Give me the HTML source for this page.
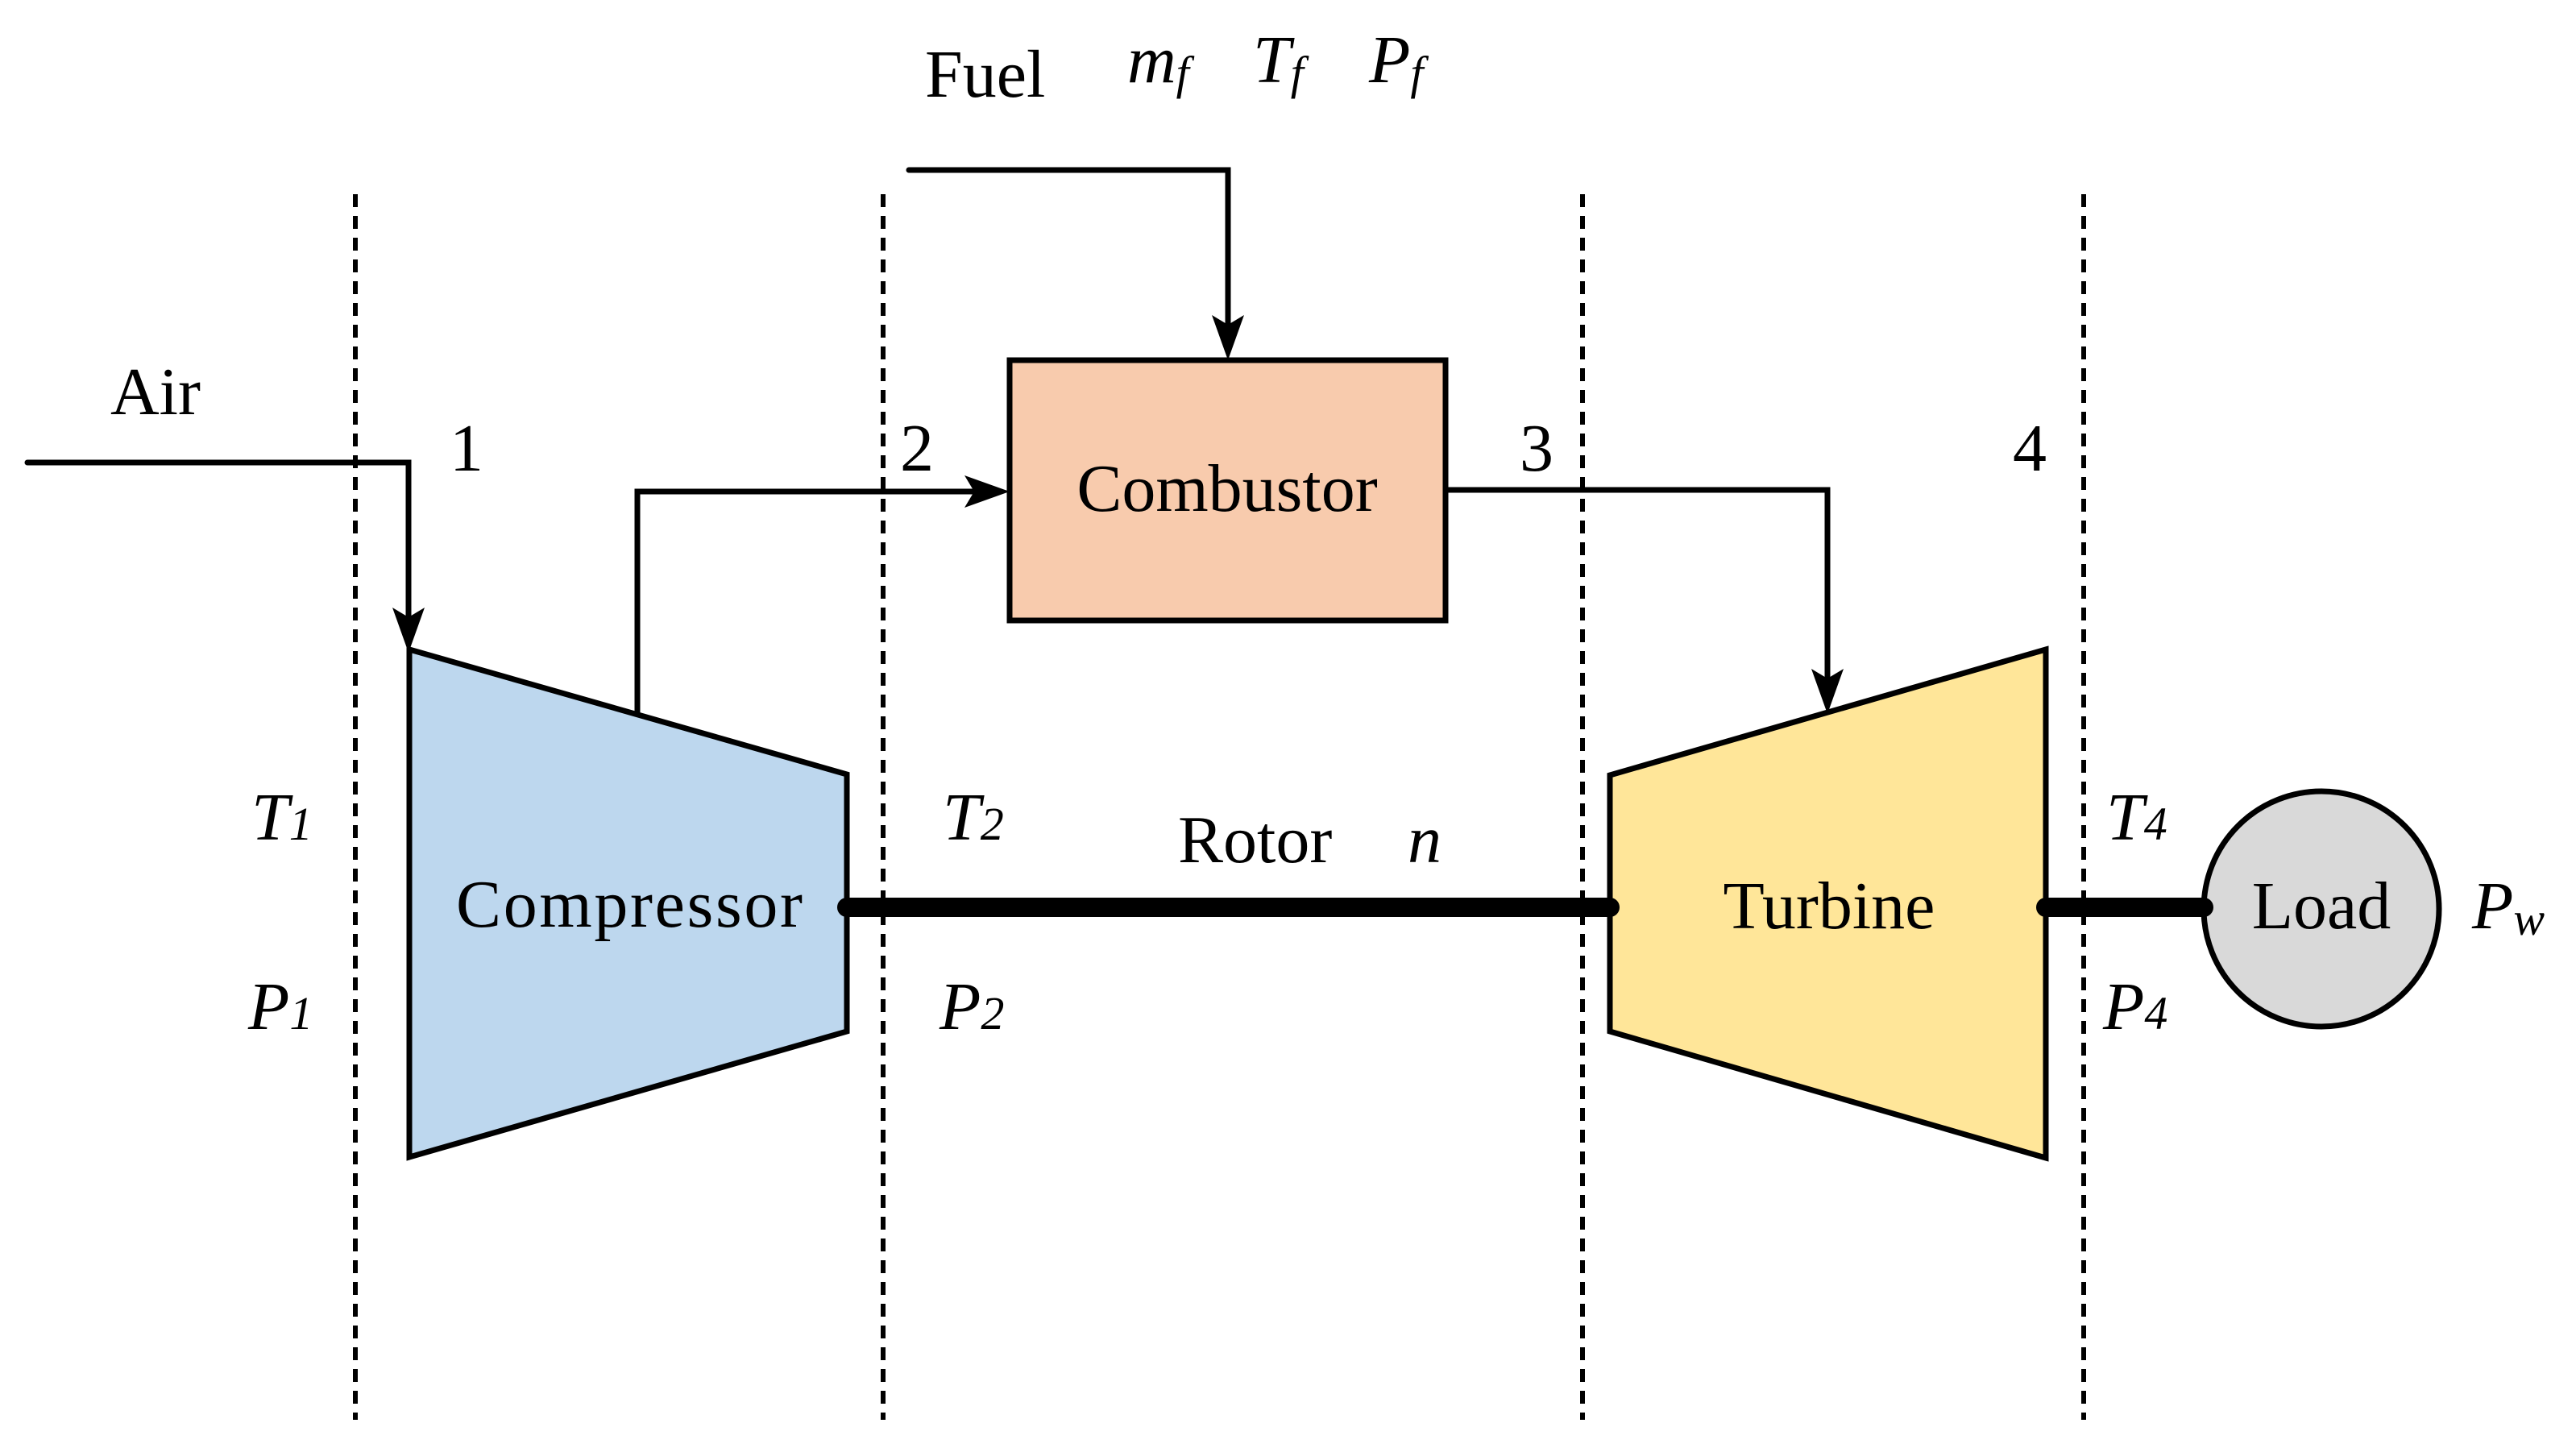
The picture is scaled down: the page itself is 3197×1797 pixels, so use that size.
<!DOCTYPE html>
<html><head><meta charset="utf-8"><style>html,body{margin:0;padding:0;background:#fff}svg{display:block}</style></head>
<body>
<svg width="3197" height="1797" viewBox="0 0 3197 1797" xmlns="http://www.w3.org/2000/svg" font-family="'Liberation Serif', serif" font-size="84">
<g stroke="#000" stroke-width="6" stroke-dasharray="16,11" fill="none">
<line x1="441" y1="241" x2="441" y2="1762"/>
<line x1="1096" y1="241" x2="1096" y2="1762"/>
<line x1="1964" y1="241" x2="1964" y2="1762"/>
<line x1="2586" y1="241" x2="2586" y2="1762"/>
</g>
<polygon points="508,806 1051,961 1051,1280 508,1436" fill="#bdd7ee" stroke="#000" stroke-width="7"/>
<polygon points="1998,962 2539,806 2539,1437 1998,1280" fill="#ffe699" stroke="#000" stroke-width="7"/>
<rect x="1253" y="447" width="541" height="323" fill="#f8cbad" stroke="#000" stroke-width="7"/>
<circle cx="2881" cy="1128" r="146" fill="#d9d9d9" stroke="#000" stroke-width="7"/>
<line x1="1051" y1="1126" x2="1998" y2="1126" stroke="#000" stroke-width="24" stroke-linecap="round"/>
<line x1="2539" y1="1126" x2="2735" y2="1126" stroke="#000" stroke-width="24" stroke-linecap="round"/>
<g stroke="#000" stroke-width="7" fill="none">
<polyline points="34,574 507,574 507,775" stroke-linecap="round"/>
<polyline points="791,886 791,610 1215,610"/>
<polyline points="1128,211 1524,211 1524,410" stroke-linecap="round"/>
<polyline points="1794,608 2268,608 2268,850"/>
</g>
<g fill="#000">
<polygon points="507,810 487,754 507,766 527,754"/>
<polygon points="1253,610 1197,590 1209,610 1197,630"/>
<polygon points="1524,447 1504,391 1524,403 1544,391"/>
<polygon points="2268,886 2248,830 2268,842 2288,830"/>
</g>
<g fill="#000">
<text x="1148" y="120">Fuel</text>
<text x="1399" y="102" font-style="italic">m<tspan font-size="58" dy="8">f</tspan></text>
<text x="1555" y="102" font-style="italic">T<tspan font-size="58" dy="8">f</tspan></text>
<text x="1699" y="102" font-style="italic">P<tspan font-size="58" dy="8">f</tspan></text>
<text x="137" y="514">Air</text>
<text x="558" y="584">1</text>
<text x="1117" y="584">2</text>
<text x="1886" y="584">3</text>
<text x="2498" y="584">4</text>
<text x="1523" y="634" text-anchor="middle">Combustor</text>
<text x="566" y="1150" textLength="430">Compressor</text>
<text x="2270" y="1152" text-anchor="middle">Turbine</text>
<text x="2881" y="1152" text-anchor="middle">Load</text>
<text x="1462" y="1070">Rotor</text>
<text x="1747" y="1070" font-style="italic">n</text>
<text x="312" y="1042" font-style="italic">T<tspan font-size="58">1</tspan></text>
<text x="308" y="1277" font-style="italic">P<tspan font-size="58">1</tspan></text>
<text x="1170" y="1042" font-style="italic">T<tspan font-size="58">2</tspan></text>
<text x="1166" y="1277" font-style="italic">P<tspan font-size="58">2</tspan></text>
<text x="2614" y="1042" font-style="italic">T<tspan font-size="58">4</tspan></text>
<text x="2610" y="1277" font-style="italic">P<tspan font-size="58">4</tspan></text>
<text x="3068" y="1152" font-style="italic">P<tspan font-size="58" dy="8">w</tspan></text>
</g>
</svg>
</body></html>
